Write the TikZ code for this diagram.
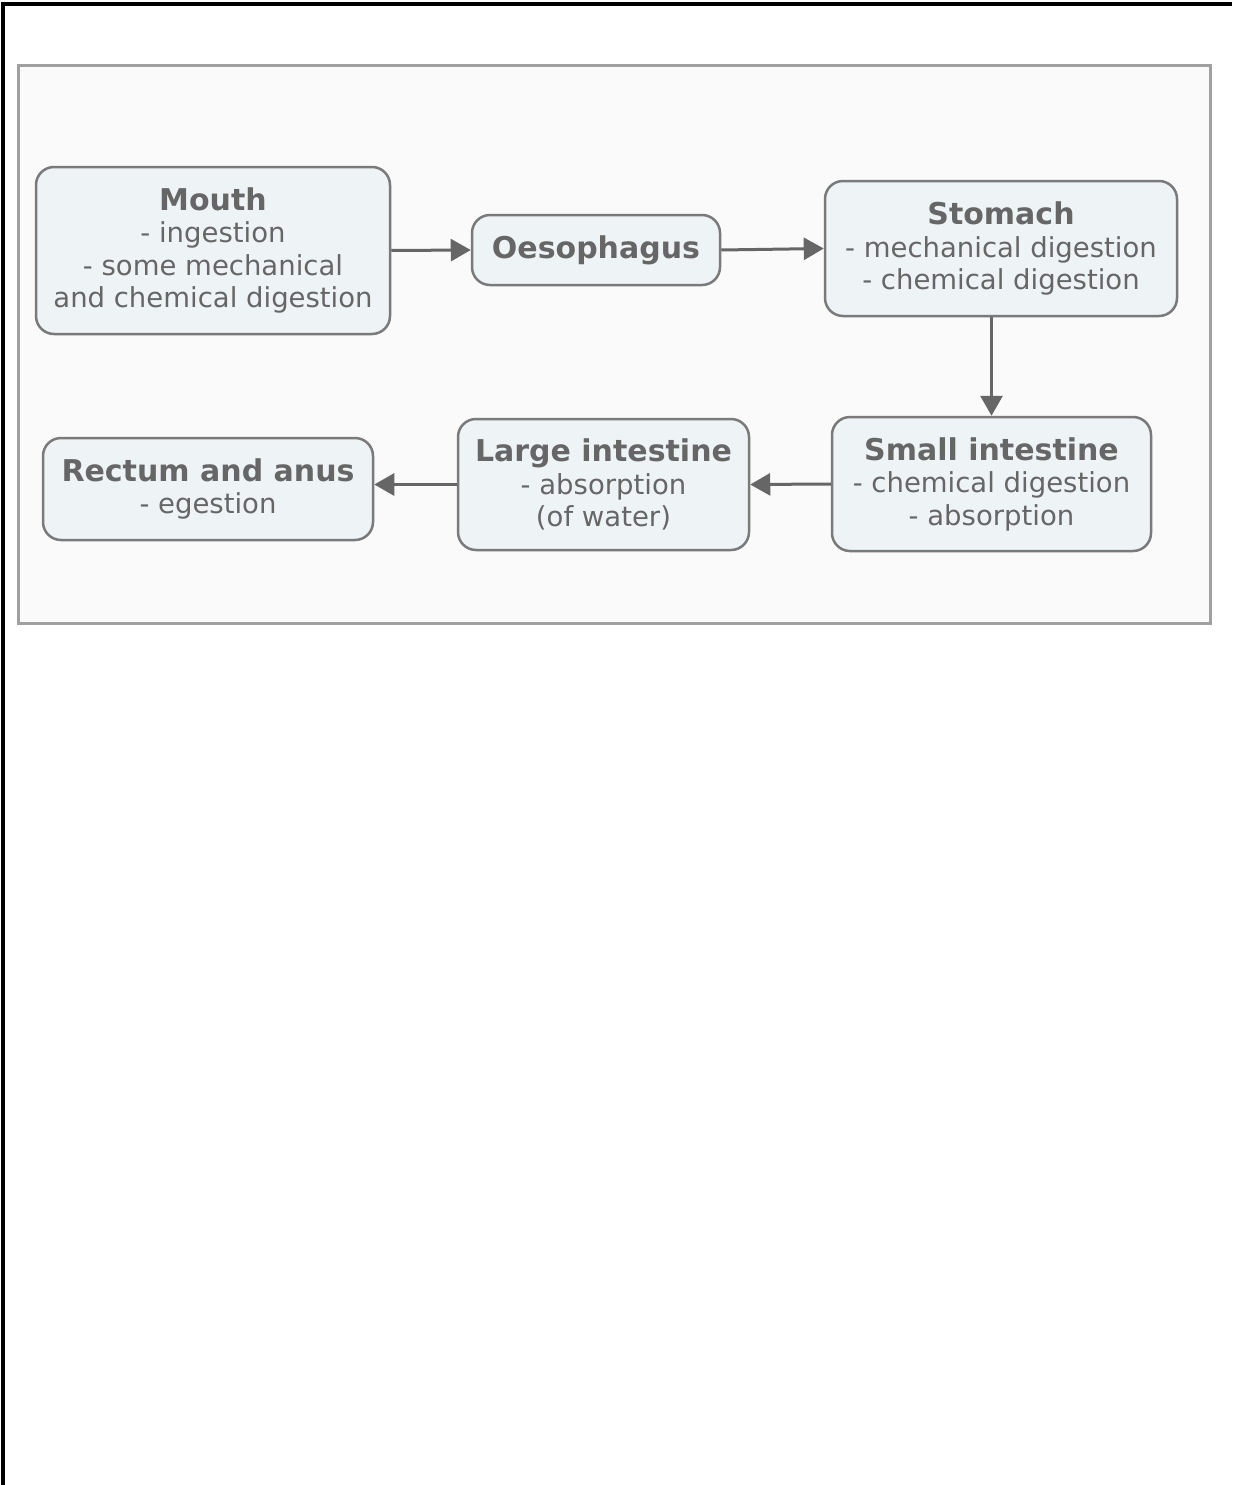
\documentclass[tikz,border=0pt]{standalone}
\usepackage{fontspec}
\setmainfont{DejaVu Sans}
\usepackage{tikz}
\usetikzlibrary{arrows.meta,positioning}

\definecolor{inkgray}{HTML}{666666}
\definecolor{edgegray}{HTML}{7A7A7A}
\definecolor{boxfill}{HTML}{EEF3F6}
\definecolor{panelfill}{HTML}{FAFAFA}
\definecolor{panelline}{HTML}{A0A0A0}

\tikzset{
    organ/.style={draw=edgegray, line width=2.5pt, fill=boxfill, rounded corners=18pt,
        align=center, inner sep=0pt, text=inkgray,
        font=\fontsize{27.5}{32.5}\selectfont},
    flow/.style={draw=inkgray, line width=3pt, -{Triangle[length=20pt,width=22pt]}},
}
\newcommand{\organtitle}[1]{{\fontsize{30}{35}\selectfont\bfseries #1}}

\begin{document}
\begin{tikzpicture}[x=1pt,y=1pt,yscale=-1,xscale=1]
        \useasboundingbox (0,0) rectangle (1232,1485);
        %Frame lines (top and left)
        \draw [line width=4pt] (2,4) -- (1232,4) ;
        \draw [line width=4pt] (3,2) -- (3,1485) ;
        %Panel
        \draw [draw=panelline, fill=panelfill, line width=3pt] (18,66) rectangle (1210,623) ;
        % Organ nodes
        \node [organ, minimum width=354pt, minimum height=167pt] (mouth) at (213,250.5)
            {\organtitle{Mouth}\\- ingestion\\- some mechanical\\and chemical digestion};
        \node [organ, minimum width=248pt, minimum height=70pt] (oeso) at (596,250)
            {\organtitle{Oesophagus}};
        \node [organ, minimum width=352pt, minimum height=135pt] (stomach) at (1001,248.5)
            {\organtitle{Stomach}\\- mechanical digestion\\- chemical digestion};
        \node [organ, minimum width=319pt, minimum height=134pt] (small) at (991.5,484)
            {\organtitle{Small intestine}\\- chemical digestion\\- absorption};
        \node [organ, minimum width=291pt, minimum height=131pt] (large) at (603.5,484.5)
            {\organtitle{Large intestine}\\- absorption\\(of water)};
        \node [organ, minimum width=330pt, minimum height=102pt] (rectum) at (208,489)
            {\organtitle{Rectum and anus}\\- egestion};
        % Connectors
        \draw [flow] (mouth.east) -- (oeso.west) ;
        \draw [flow] (oeso.east) -- (stomach.west) ;
        \draw [flow] (stomach.south -| small.north) -- (small.north) ;
        \draw [flow] (small.west) -- (large.east) ;
        \draw [flow] (large.west) -- (large.west -| rectum.east) ;
\end{tikzpicture}
\end{document}
